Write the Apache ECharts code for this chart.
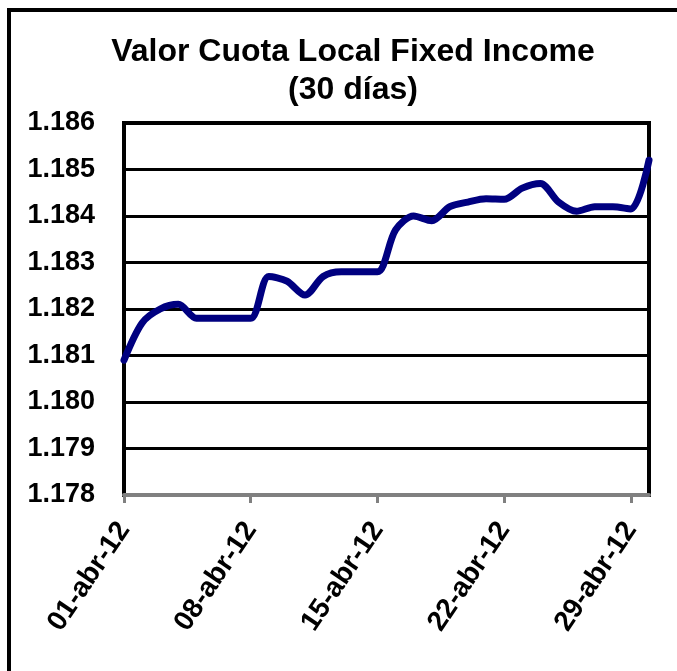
<!DOCTYPE html>
<html>
<head>
<meta charset="utf-8">
<script src="https://cdn.jsdelivr.net/npm/echarts@6/dist/echarts.min.js"></script>
<style>
  html, body { margin: 0; padding: 0; background: #fff; }
  #chart { width: 677px; height: 671px; }
</style>
</head>
<body>
<div id="chart"></div>
<script>
// daily fund unit value, April 2012
var dates = [
  '01-abr-12', '02-abr-12', '03-abr-12', '04-abr-12', '05-abr-12', '06-abr-12',
  '07-abr-12', '08-abr-12', '09-abr-12', '10-abr-12', '11-abr-12', '12-abr-12',
  '13-abr-12', '14-abr-12', '15-abr-12', '16-abr-12', '17-abr-12', '18-abr-12',
  '19-abr-12', '20-abr-12', '21-abr-12', '22-abr-12', '23-abr-12', '24-abr-12',
  '25-abr-12', '26-abr-12', '27-abr-12', '28-abr-12', '29-abr-12', '30-abr-12'
];
var valorCuota = [
  1.1809, 1.1817, 1.1820, 1.1821, 1.1818, 1.1818,
  1.1818, 1.1818, 1.1827, 1.1826, 1.1823, 1.1827,
  1.1828, 1.1828, 1.1828, 1.1837, 1.1840, 1.1839,
  1.1842, 1.1843, 1.18437, 1.18436, 1.1846, 1.1847,
  1.1843, 1.1841, 1.1842, 1.1842, 1.18415, 1.1852
];
var yMin = 1.178, yMax = 1.186, yStep = 0.001;

var font = "'Liberation Sans', Arial, sans-serif";
var chart = echarts.init(document.getElementById('chart'));

chart.setOption({
  animation: false,
  backgroundColor: '#fff',
  title: {
    text: 'Valor Cuota Local Fixed Income\n(30 días)',
    left: 348,
    top: 28,
    textAlign: 'center',
    textStyle: { fontFamily: font, fontWeight: 'bold', fontSize: 32, lineHeight: 38, color: '#000' }
  },
  graphic: [{
    type: 'rect',
    shape: { x: 9, y: 10, width: 720, height: 720 },
    style: { fill: 'none', stroke: '#000', lineWidth: 4 },
    silent: true
  }],
  grid: {
    left: 124, right: 28, top: 123, bottom: 176,
    show: true, borderColor: '#000', borderWidth: 4, backgroundColor: '#fff'
  },
  xAxis: {
    type: 'category',
    data: dates,
    boundaryGap: false,
    axisLine: { lineStyle: { color: '#808080', width: 4 } },
    axisTick: { interval: 6, length: 8, lineStyle: { color: '#808080', width: 3 } },
    axisLabel: {
      interval: 6, rotate: 56, margin: 30,
      fontFamily: font, fontWeight: 'bold', fontSize: 28, color: '#000'
    },
    splitLine: { show: false }
  },
  yAxis: {
    type: 'value',
    min: yMin, max: yMax, interval: yStep,
    axisLine: { show: false },
    axisTick: { show: false },
    axisLabel: {
      margin: 29,
      fontFamily: font, fontWeight: 'bold', fontSize: 27, color: '#000',
      formatter: function (v) { return v.toFixed(3); }
    },
    splitLine: { lineStyle: { color: '#000', width: 3 } }
  },
  series: [{
    type: 'line',
    data: valorCuota,
    smooth: 0.3,
    showSymbol: false,
    lineStyle: { color: '#000080', width: 7, cap: 'round', join: 'round' }
  }]
});
</script>
</body>
</html>
